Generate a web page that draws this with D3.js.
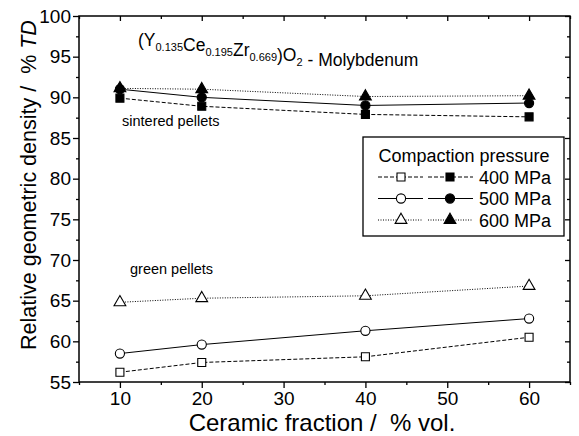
<!DOCTYPE html>
<html>
<head>
<meta charset="utf-8">
<script src="https://cdn.jsdelivr.net/npm/d3@7"></script>
<style>
	body { margin: 0; background: #fff; }
	svg text { font-family: "Liberation Sans", Arial, sans-serif; fill: #000; white-space: pre; }
</style>
</head>
<body>
<div id="chart"></div>
<script>
// ceramic fraction, % vol.
var fractions = [10, 20, 40, 60];

// green pellets
var green400 = [56.2, 57.4, 58.1, 60.5];
var green500 = [58.5, 59.6, 61.3, 62.8];
var green600 = [64.8, 65.3, 65.6, 66.8];

// sintered pellets
var sint400 = [89.9, 88.9, 87.9, 87.6];
var sint500 = [91.0, 90.0, 89.0, 89.3];
var sint600 = [91.1, 91.0, 90.1, 90.2];

var xTicks = [10, 20, 30, 40, 50, 60];
var yTicks = [55, 60, 65, 70, 75, 80, 85, 90, 95, 100];
var pressures = ["400 MPa", "500 MPa", "600 MPa"];

var dims = {
	width: 579,
	height: 436,
	margin: { top: 16, right: 9, bottom: 54, left: 79 }
};
var w = dims.width - dims.margin.left - dims.margin.right;
var h = dims.height - dims.margin.top - dims.margin.bottom;

var svg = d3.select("#chart")
	.append("svg")
		.attr("width", dims.width)
		.attr("height", dims.height);

var g = svg.append("g")
	.attr("transform", "translate(" + dims.margin.left + "," + dims.margin.top + ")");

var x = d3.scaleLinear().domain([5, 65]).range([0, w]);
var y = d3.scaleLinear().domain([55, 100]).range([h, 0]);

// line styles per pressure
var styles = [
	{ dash: "4,2", shape: d3.symbolSquare, size: 64 },
	{ dash: null, shape: d3.symbolCircle, size: 66 },
	{ dash: "1,1.5", shape: d3.symbolTriangle, size: 60 }
];

// minor ticks
var xMinor = d3.range(5, 66, 5).filter(function(v) { return v % 10 != 0; });
var yMinor = d3.range(57.5, 100, 5);

function axisStyle(sel) {
	sel.select(".domain").remove();
	sel.selectAll("line").attr("stroke", "#000").attr("stroke-width", 1.3);
	sel.selectAll("text").style("font-size", "19px");
}

g.append("g")
	.attr("transform", "translate(0," + h + ")")
	.call(d3.axisBottom(x).tickValues(xTicks).tickSize(6).tickPadding(4).tickFormat(d3.format("d")))
	.call(axisStyle);
g.append("g")
	.attr("transform", "translate(0," + h + ")")
	.call(d3.axisBottom(x).tickValues(xMinor).tickSize(3).tickFormat(""))
	.call(axisStyle);
g.append("g")
	.call(d3.axisLeft(y).tickValues(yTicks).tickSize(6).tickPadding(2).tickFormat(d3.format("d")))
	.call(axisStyle);
g.append("g")
	.call(d3.axisLeft(y).tickValues(yMinor).tickSize(3).tickFormat(""))
	.call(axisStyle);
// inward ticks on top and right
g.append("g")
	.call(d3.axisTop(x).tickValues(xTicks).tickSize(-5).tickFormat(""))
	.call(axisStyle);
g.append("g")
	.call(d3.axisTop(x).tickValues(xMinor).tickSize(-3).tickFormat(""))
	.call(axisStyle);
g.append("g")
	.attr("transform", "translate(" + w + ",0)")
	.call(d3.axisRight(y).tickValues(yTicks).tickSize(-5).tickFormat(""))
	.call(axisStyle);
g.append("g")
	.attr("transform", "translate(" + w + ",0)")
	.call(d3.axisRight(y).tickValues(yMinor).tickSize(-3).tickFormat(""))
	.call(axisStyle);

g.append("rect")
	.attr("width", w)
	.attr("height", h)
	.attr("fill", "none")
	.attr("stroke", "#000")
	.attr("stroke-width", 1.5);

var line = d3.line()
	.x(function(d) { return x(d[0]); })
	.y(function(d) { return y(d[1]); });

function drawSeries(vals, i, filled) {
	var pts = fractions.map(function(f, k) { return [f, vals[k]]; });
	g.append("path")
		.datum(pts)
		.attr("d", line)
		.attr("fill", "none")
		.attr("stroke", "#000")
		.attr("stroke-width", 1)
		.attr("stroke-dasharray", styles[i].dash);
	g.selectAll(null)
		.data(pts)
		.enter().append("path")
			.attr("transform", function(d) { return "translate(" + x(d[0]) + "," + y(d[1]) + ")"; })
			.attr("d", d3.symbol().type(styles[i].shape).size(styles[i].size))
			.attr("fill", filled ? "#000" : "#fff")
			.attr("stroke", "#000")
			.attr("stroke-width", 1.1);
}

drawSeries(green400, 0, false);
drawSeries(green500, 1, false);
drawSeries(green600, 2, false);
drawSeries(sint400, 0, true);
drawSeries(sint500, 1, true);
drawSeries(sint600, 2, true);

// annotations
var title = g.append("text")
	.attr("x", 59)
	.attr("y", 30);
var parts = [
	["(Y", 0], ["0.135", 1], ["Ce", 0], ["0.195", 1], ["Zr", 0], ["0.669", 1],
	[")O", 0], ["2", 1], [" - Molybdenum", 0]
];
parts.forEach(function(p) {
	title.append("tspan")
		.attr("dy", p[1] ? 5 : 0)
		.style("font-size", p[1] ? "11px" : "17.5px")
		.text(p[0]);
	if(p[1]) {
		title.append("tspan").attr("dy", -5).text("");
	}
});

g.append("text")
	.attr("x", 43)
	.attr("y", 110)
	.style("font-size", "14.5px")
	.text("sintered pellets");
g.append("text")
	.attr("x", 51)
	.attr("y", 258)
	.style("font-size", "14.5px")
	.text("green pellets");

// legend
var lg = g.append("g").attr("transform", "translate(" + (363 - dims.margin.left) + "," + (137 - dims.margin.top) + ")");
lg.append("rect")
	.attr("width", 201)
	.attr("height", 99)
	.attr("fill", "#fff")
	.attr("stroke", "#000")
	.attr("stroke-width", 1.3);
lg.append("text")
	.attr("x", 101)
	.attr("y", 25)
	.attr("text-anchor", "middle")
	.style("font-size", "18px")
	.text("Compaction pressure");

pressures.forEach(function(p, i) {
	var ry = 40 + i * 21.5;
	var row = lg.append("g").attr("transform", "translate(0," + ry + ")");
	[[15, 60, 38, false], [65, 110, 87, true]].forEach(function(s) {
		row.append("line")
			.attr("x1", s[0]).attr("x2", s[1])
			.attr("stroke", "#000")
			.attr("stroke-width", 1)
			.attr("stroke-dasharray", styles[i].dash);
		row.append("path")
			.attr("transform", "translate(" + s[2] + ",0)")
			.attr("d", d3.symbol().type(styles[i].shape).size(styles[i].size))
			.attr("fill", s[3] ? "#000" : "#fff")
			.attr("stroke", "#000")
			.attr("stroke-width", 1.1);
	});
	row.append("text")
		.attr("x", 116)
		.attr("y", 6.5)
		.style("font-size", "18px")
		.text(p);
});

// axis titles
svg.append("text")
	.attr("x", 322)
	.attr("y", 431)
	.attr("text-anchor", "middle")
	.style("font-size", "24px")
	.text("Ceramic fraction /  % vol.");

var yt = svg.append("text")
	.attr("transform", "translate(36," + 185 + ") rotate(-90)")
	.attr("text-anchor", "middle")
	.style("font-size", "21.5px");
yt.append("tspan").text("Relative geometric density /  % ");
yt.append("tspan").style("font-style", "italic").text("TD");
</script>
</body>
</html>
